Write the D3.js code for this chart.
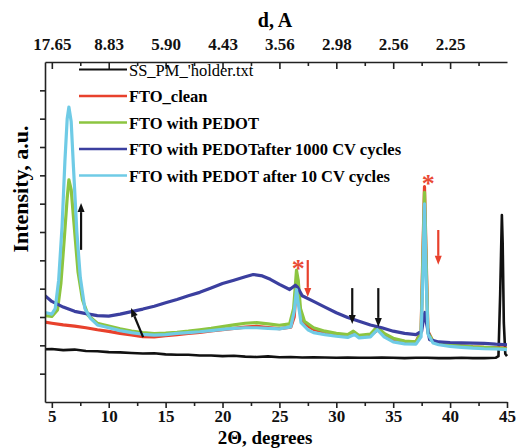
<!DOCTYPE html>
<html>
<head>
<meta charset="utf-8">
<script src="https://cdn.jsdelivr.net/npm/d3@7"></script>
<style>
body { margin:0; background:#fff; }
svg { font-family:"Liberation Serif","Times New Roman",serif; }
.axis path, .axis line { stroke:#222; stroke-width:1.6; }
.axis text { fill:#111; }
</style>
</head>
<body>
<script>
// 2theta / intensity (a.u.)
var tBlack = [4.4,5,6,7,8,9,10,11,12,13,14,15,16,17,18,19,20,21,22,23,24,25,26,27,28,29,30,31,32,33,34,35,36,37,38,39,40,41,42,43,44,44.25,44.4,44.55,44.62,44.72,44.85,45];
var vBlack = [1.86,1.87,1.83,1.85,1.80,1.79,1.76,1.75,1.73,1.71,1.72,1.68,1.67,1.67,1.64,1.64,1.62,1.63,1.60,1.59,1.61,1.58,1.59,1.57,1.58,1.57,1.56,1.57,1.56,1.56,1.57,1.56,1.55,1.56,1.56,1.55,1.55,1.56,1.55,1.55,1.56,1.62,3.8,6.6,5.6,2.8,1.7,1.62];

var tRed = [4.4,5,6,7,8,9,10,11,12,13,14,15,16,17,18,19,20,21,22,23,24,25,26,26.3,26.5,26.6,26.8,27.1,28,29,30,31,31.5,32,33,33.7,34.5,35,36,37,37.45,37.62,37.75,37.88,38.05,38.5,39,40,41,42,43,44,45];
var vRed = [2.82,2.78,2.72,2.68,2.62,2.55,2.49,2.42,2.37,2.31,2.30,2.34,2.38,2.42,2.46,2.51,2.55,2.60,2.64,2.67,2.63,2.59,2.64,3.0,4.2,4.3,3.2,2.78,2.56,2.46,2.39,2.33,2.42,2.31,2.36,2.56,2.31,2.21,2.13,2.12,2.5,5.5,7.6,5.4,2.5,2.13,2.05,2.0,1.98,1.95,1.93,1.92,1.90];

var tGreen = [4.4,5,5.5,5.8,6.1,6.35,6.5,6.7,6.95,7.3,7.7,8.2,9,10,11,12,13,14,15,16,17,18,19,20,21,22,23,24,25,25.9,26.25,26.5,26.65,26.85,27.2,28,29,30,31,31.5,32,33,33.6,34.2,35,36,37,37.45,37.62,37.75,37.88,38.05,38.5,39,40,41,42,43,44,45];
var vGreen = [3.05,3.02,3.25,4.2,5.8,7.2,7.84,7.5,6.3,4.6,3.6,3.05,2.78,2.68,2.58,2.50,2.45,2.41,2.43,2.46,2.50,2.55,2.60,2.66,2.72,2.78,2.80,2.76,2.71,2.76,3.3,4.65,4.3,3.3,2.85,2.62,2.50,2.42,2.38,2.50,2.35,2.40,2.66,2.42,2.25,2.15,2.12,2.45,5.2,7.4,5.1,2.45,2.15,2.08,2.02,1.98,1.95,1.93,1.91,1.88];

var tBlue = [4.4,5,6,7,8,9,10,11,12,13,14,15,16,17,18,19,20,21,22,22.7,23.5,24.2,25,25.9,26.4,26.6,27,28,29,30,31,32,33,34,35,36,37,37.5,37.65,37.78,37.92,38.2,39,40,41,42,43,44,45];
var vBlue = [3.75,3.55,3.35,3.20,3.12,3.05,3.03,3.10,3.19,3.28,3.38,3.50,3.62,3.75,3.87,4.02,4.18,4.30,4.42,4.50,4.45,4.33,4.15,3.97,4.12,4.05,3.75,3.55,3.35,3.15,2.98,2.85,2.72,2.62,2.50,2.42,2.38,2.50,2.9,3.16,2.8,2.2,2.12,2.10,2.09,2.08,2.07,2.04,2.02];

var tCyan = [4.4,5,5.3,5.6,5.9,6.15,6.35,6.5,6.7,6.9,7.2,7.5,7.9,8.4,9,10,11,12,13,14,15,16,17,18,19,20,21,22,23,24,25,26,26.3,26.5,26.65,26.9,27.5,28,29,30,31,31.6,32,33,33.6,34.2,35,36,37,37.45,37.62,37.75,37.88,38.05,38.5,39,40,41,42,43,44,45];
var vCyan = [3.16,3.1,3.3,4.3,6.2,8.5,10.0,10.41,9.9,8.3,6.0,4.4,3.3,2.95,2.72,2.62,2.52,2.45,2.39,2.36,2.38,2.42,2.45,2.48,2.52,2.56,2.60,2.62,2.62,2.60,2.58,2.65,3.2,3.97,3.5,2.8,2.55,2.45,2.38,2.32,2.28,2.38,2.26,2.30,2.55,2.30,2.12,2.05,2.04,2.3,4.6,6.99,4.6,2.4,2.08,2.02,1.96,1.93,1.90,1.88,1.87,1.85];

var seriesNames = ["SS_PM_'holder.txt","FTO_clean","FTO with PEDOT","FTO with PEDOTafter 1000 CV cycles","FTO with PEDOT after 10 CV cycles"];
var seriesColors = ["#111111","#e8412c","#8cc540","#3b3f9f","#6fcbe6"];

var dLabels = ["17.65","8.83","5.90","4.43","3.56","2.98","2.56","2.25"];
var dAt = [5,10,15,20,25,30,35,40];
var xMajor = [5,10,15,20,25,30,35,40,45];
var xMinor = [7.5,12.5,17.5,22.5,27.5,32.5,37.5,42.5];
var yTicks = [1,2,3,4,5,6,7,8,9,10,11];

var width = 516, height = 448;
var plotL = 45, plotR = 507, plotT = 62, plotB = 402;
var serif = "'Liberation Serif','Times New Roman',serif";

var svg = d3.select("body").append("svg").attr("width",width).attr("height",height);

var x = d3.scaleLinear().domain([4.4,45]).range([plotL,plotR]);
var y = d3.scaleLinear().domain([0,12]).range([plotB,plotT]);

svg.append("clipPath").attr("id","clip")
	.append("rect").attr("x",plotL).attr("y",plotT).attr("width",plotR-plotL+3).attr("height",plotB-plotT);

var series = [
	{t:tBlack, v:vBlack},
	{t:tRed, v:vRed},
	{t:tGreen, v:vGreen},
	{t:tBlue, v:vBlue},
	{t:tCyan, v:vCyan}
];

var line = d3.line()
	.x(function(d){ return x(d[0]); })
	.y(function(d){ return y(d[1]); });

svg.append("g").attr("clip-path","url(#clip)")
	.selectAll("path")
	.data(series)
	.enter().append("path")
		.attr("d",function(d){ return line(d.t.map(function(t,i){ return [t,d.v[i]]; })); })
		.attr("fill","none")
		.attr("stroke",function(d,i){ return seriesColors[i]; })
		.attr("stroke-width",function(d,i){ return i==0 ? 2.6 : 3.2; })
		.attr("stroke-linejoin","round");

// axes
function styleAxis(g){
	g.attr("font-family",serif).attr("font-size",17).attr("font-weight","bold");
}
svg.append("g").attr("class","axis").attr("transform","translate(0,"+plotB+")")
	.call(d3.axisBottom(x).tickValues(xMajor).tickSize(6).tickSizeOuter(0).tickPadding(2).tickFormat(d3.format("d")))
	.call(styleAxis);
svg.append("g").attr("class","axis").attr("transform","translate(0,"+plotB+")")
	.call(d3.axisBottom(x).tickValues(xMinor).tickSize(4).tickFormat(""))
	.select(".domain").remove();

svg.append("g").attr("class","axis").attr("transform","translate(0,"+plotT+")")
	.call(d3.axisTop(x).tickValues(dAt).tickSize(-7).tickSizeOuter(0).tickFormat(function(d,i){ return dLabels[i]; }).tickPadding(12))
	.call(styleAxis);
svg.append("g").attr("class","axis").attr("transform","translate(0,"+plotT+")")
	.call(d3.axisTop(x).tickValues(xMinor).tickSize(-4).tickFormat(""))
	.select(".domain").remove();

svg.append("g").attr("class","axis").attr("transform","translate("+plotL+",0)")
	.call(d3.axisLeft(y).tickValues(yTicks).tickSize(5).tickSizeOuter(0).tickFormat(""));

// titles
svg.append("text").attr("x",275).attr("y",27).attr("text-anchor","middle")
	.style("font-size","20px").style("font-weight","bold").text("d, A");
svg.append("text").attr("x",265).attr("y",444).attr("text-anchor","middle")
	.style("font-size","19px").style("font-weight","bold").text("2\u0398, degrees");
svg.append("text").attr("transform","translate(28,189) rotate(-90)").attr("text-anchor","middle")
	.style("font-size","22px").style("font-weight","bold").text("Intensity, a.u.");

// legend
var legend = svg.selectAll(".leg").data(seriesNames).enter().append("g")
	.attr("class","leg")
	.attr("transform",function(d,i){ return "translate(79,"+(69.5+i*26.5)+")"; });
legend.append("line").attr("x1",0).attr("x2",48).attr("y1",0).attr("y2",0)
	.attr("stroke",function(d,i){ return seriesColors[i]; }).attr("stroke-width",function(d,i){ return i==0?2:2.6; });
legend.append("text").attr("x",50).attr("y",6)
	.style("font-size","16.5px")
	.style("font-weight",function(d,i){ return i==0 ? "normal" : "bold"; })
	.text(function(d){ return d; });

// annotations (data coords)
var arrows = [
	{t1:7.57, v1:5.37, t2:7.57, v2:7.02, c:"#111"},
	{t1:13.02, v1:2.29, t2:11.96, v2:3.32, c:"#111"},
	{t1:27.49, v1:5.01, t2:27.49, v2:3.71, c:"#e8412c"},
	{t1:31.4, v1:4.02, t2:31.4, v2:2.75, c:"#111"},
	{t1:33.69, v1:4.02, t2:33.69, v2:2.65, c:"#111"},
	{t1:38.96, v1:6.07, t2:38.96, v2:4.84, c:"#e8412c"}
];
var ag = svg.selectAll(".arr").data(arrows).enter().append("g").attr("class","arr");
ag.each(function(d){
	var x1 = x(d.t1), y1 = y(d.v1), x2 = x(d.t2), y2 = y(d.v2);
	var a = Math.atan2(y2-y1, x2-x1), L = 9, W = 3.5;
	var bx = x2 - L*Math.cos(a), by = y2 - L*Math.sin(a);
	var g = d3.select(this);
	g.append("line").attr("x1",x1).attr("y1",y1).attr("x2",bx).attr("y2",by)
		.attr("stroke",d.c).attr("stroke-width",2.2);
	g.append("path")
		.attr("d","M"+x2+","+y2+"L"+(bx+W*Math.sin(a))+","+(by-W*Math.cos(a))+"L"+(bx-W*Math.sin(a))+","+(by+W*Math.cos(a))+"Z")
		.attr("fill",d.c);
});

var stars = [{t:26.65, v:4.84},{t:38.08, v:7.84}];
svg.selectAll(".star").data(stars).enter().append("text")
	.attr("x",function(d){ return x(d.t); })
	.attr("y",function(d){ return y(d.v)+12; })
	.attr("text-anchor","middle")
	.style("font-size","26px").style("font-weight","bold")
	.attr("fill","#ea4a35")
	.text("*");
</script>
</body>
</html>
